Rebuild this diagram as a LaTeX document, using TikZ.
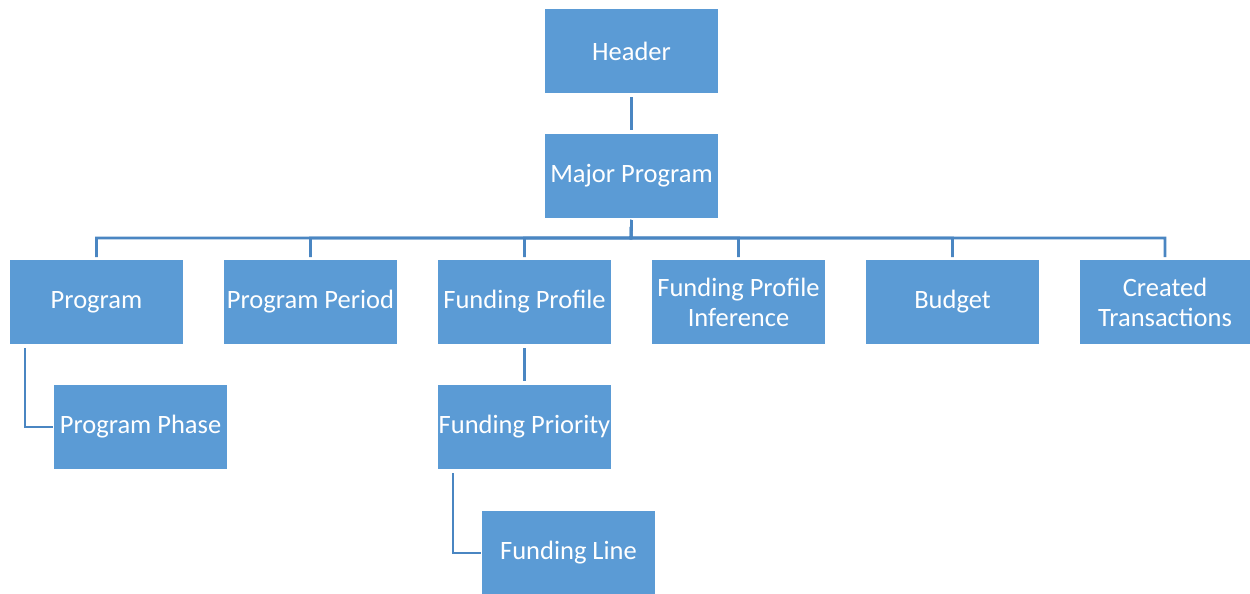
\documentclass[tikz,border=0pt]{standalone}
\usepackage{fontspec}
\setmainfont{Carlito}
\definecolor{boxblue}{HTML}{5B9BD5}
\definecolor{lineblue}{HTML}{4A86C2}
\begin{document}
\begin{tikzpicture}[x=1pt,y=-1pt,
  box/.style={fill=boxblue,draw=white,line width=1pt,minimum width=174pt,minimum height=85pt,
    text=white,font=\fontsize{26.5}{30}\selectfont,align=center,inner sep=0pt,anchor=north west},
  conn/.style={draw=lineblue,line width=2.6pt}]
\useasboundingbox (0,0) rectangle (1250,594);
\fill[white] (0,0) rectangle (1250,594);
\node[box] (hdr) at (544,8) {Header};
\node[box] (mp) at (544,133) {Major Program};
\node[box] (prog) at (9,259) {Program};
\node[box] (pper) at (223,259) {Program Period};
\node[box] (fprof) at (437,259) {Funding Profile};
\node[box] (fpi) at (651,259) {Funding Profile\\Inference};
\node[box] (bud) at (865,259) {Budget};
\node[box,minimum width=171pt] (ctr) at (1079,259) {Created\\Transactions};
\node[box] (pph) at (53,384) {Program Phase};
\node[box] (fpri) at (437,384) {Funding Priority};
\node[box] (fline) at (481,510) {Funding Line};
\coordinate (bus) at (631,238);
\coordinate (pc) at (25,0);
\coordinate (fc) at (453,0);
\draw[conn,shorten <=3pt,shorten >=3pt] (hdr.south) -- (mp.north);
\foreach \c in {prog,pper,fprof,fpi,bud,ctr}{
  \draw[conn,shorten <=1pt,shorten >=2pt] (mp.south) -- (bus) -| (\c.north);
}
\draw[conn,shorten <=3pt,shorten >=3pt] (fprof.south) -- (fpri.north);
\draw[conn,shorten <=3pt] (pc |- prog.south) |- (pph.west);
\draw[conn,shorten <=3pt] (fc |- fpri.south) |- (fline.west);
\end{tikzpicture}
\end{document}
